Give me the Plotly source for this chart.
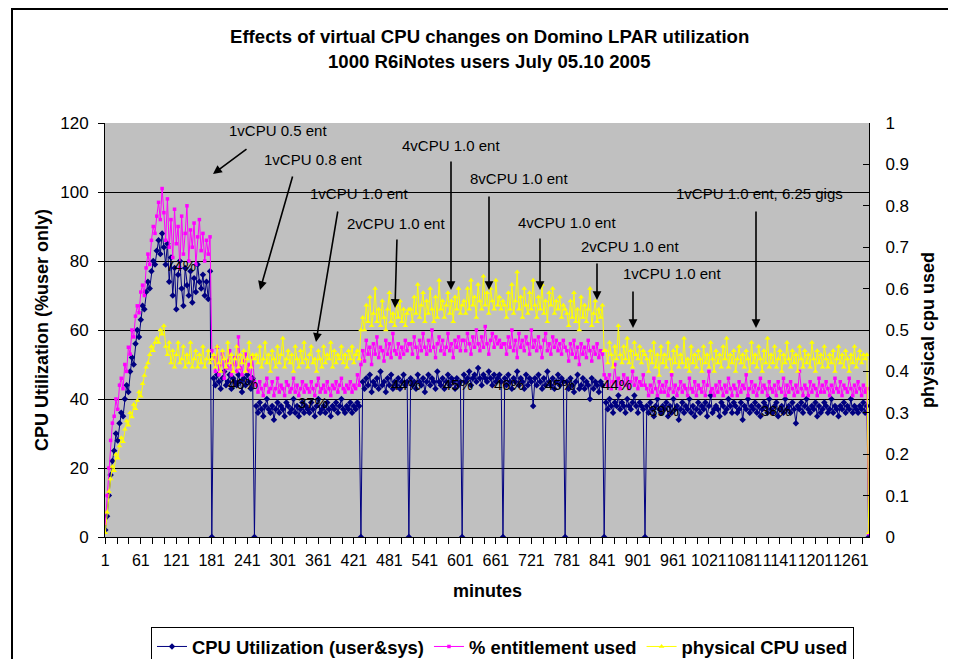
import plotly.graph_objects as go

# ---------------- data (sampled every 3 minutes) ----------------
minutes = list(range(1, 1292, 3))  # 1 .. 1291

cpu_util = [
    # 1vCPU 0.5 ent (ramp-up)
    2, 6, 12, 18, 22, 25, 30, 28, 33, 36,
    35, 40, 44, 42, 48, 52, 50, 56, 60, 58,
    63, 67, 66, 71, 74, 72, 77, 80, 79, 83,
    86, 82, 88, 84, 79, 85, 74, 81, 70, 78,
    66, 76, 80, 72, 67, 78, 73, 70, 77, 68,
    75, 71, 79, 74, 72, 76, 70, 74, 69, 77,
    0,
    # 1vCPU 0.8 ent
    46, 44, 47, 45, 43, 46, 48, 44, 45, 47,
    43, 46, 45, 44, 47, 45, 42, 46, 44, 47,
    45, 43, 46,
    0,
    # 1vCPU 1.0 ent
    38, 36, 39, 37, 35, 38, 40, 37, 36, 38,
    34, 37, 39, 36, 38, 37, 35, 39, 38, 36,
    37, 40, 36, 38, 35, 37, 39, 36, 38, 37,
    36, 39, 37, 35, 38, 40, 36, 37, 38, 36,
    39, 37, 35, 38, 37, 39, 36, 38, 40, 37,
    36, 38, 37, 39, 36, 38, 37, 39, 38,
    0,
    # 2vCPU 1.0 ent
    45, 43, 46, 44, 47, 42, 45, 44, 46, 43,
    48, 44, 45, 42, 46, 44, 47, 43, 45, 44,
    46, 43, 45, 47, 44, 45,
    0,
    # 4vCPU 1.0 ent
    46, 44, 45, 43, 47, 45, 44, 46, 42, 45,
    47, 44, 46, 45, 43, 48, 45, 44, 46, 43,
    45, 47, 44, 46, 45, 43, 46, 44, 45,
    0,
    # 8vCPU 1.0 ent
    47, 45, 46, 48, 44, 46, 47, 45, 49, 46,
    44, 47, 46, 45, 48, 46, 44, 47, 45, 46,
    47, 45,
    0,
    # 4vCPU 1.0 ent
    46, 44, 47, 45, 43, 46, 45, 48, 44, 46,
    45, 43, 47, 44, 46, 45, 38, 46, 44, 47,
    45, 43, 46, 44, 48, 45, 44, 46, 43, 45,
    47, 44, 46, 45,
    0,
    # 2vCPU 1.0 ent
    45, 43, 46, 44, 42, 45, 47, 43, 44, 46,
    43, 45, 44, 40, 46, 43, 45, 44, 42, 45,
    44,
    0,
    # 1vCPU 1.0 ent
    39, 37, 40, 38, 36, 39, 38, 41, 37, 39,
    38, 36, 40, 38, 37, 39, 41, 38, 36, 39,
    38, 37,
    0,
    # 1vCPU 1.0 ent, 6.25 gigs
    38, 36, 39, 37, 35, 38, 40, 37, 36, 38,
    37, 39, 35, 38, 36, 40, 37, 38, 34, 37,
    39, 36, 38, 37, 40, 36, 38, 35, 37, 39,
    36, 38, 37, 39, 35, 38, 41, 36, 37, 38,
    37, 35, 39, 38, 36, 37, 40, 38, 36, 39,
    38, 36, 37, 39, 34, 38, 37, 40, 36, 38,
    37, 39, 36, 38, 35, 37, 39, 38, 36, 40,
    37, 36, 38, 39, 35, 37, 38, 36, 40, 37,
    38, 36, 39, 37, 33, 38, 37, 39, 36, 38,
    40, 37, 36, 38, 37, 39, 35, 38, 36, 37,
    39, 38, 36, 37, 40, 36, 38, 37, 35, 38,
    37, 39, 36, 38, 37, 40, 36, 38, 37, 36,
    38, 37, 39, 36, 38,
    0,
]

entitlement_pct = [
    4, 12, 20, 28, 33, 35, 40, 37, 44, 46,
    43, 50, 48, 55, 53, 60, 58, 64, 67, 65,
    71, 73, 70, 78, 82, 79, 86, 90, 88, 93,
    97, 92, 101, 94, 86, 98, 84, 92, 81, 95,
    85, 90, 78, 93, 82, 88, 96, 80, 89, 84,
    91, 79, 87, 92, 83, 88, 80, 86, 82, 87,
    54,
    52, 48, 55, 47, 50, 53, 46, 51, 49, 54,
    47, 50, 52, 48, 58, 49, 47, 51, 53, 48,
    50, 46, 52,
    45,
    44, 42, 45, 43, 41, 44, 46, 42, 43, 45,
    41, 43, 46, 42, 44, 43, 41, 45, 44, 42,
    43, 46, 42, 44, 41, 43, 45, 42, 44, 43,
    42, 45, 43, 41, 44, 46, 42, 43, 44, 42,
    45, 43, 41, 44, 43, 45, 42, 44, 46, 43,
    42, 44, 43, 45, 42, 44, 43, 47, 44,
    50,
    54, 51, 57, 53, 55, 50, 56, 53, 58, 52,
    55, 54, 51, 57, 53, 56, 52, 59, 54, 53,
    56, 52, 55, 53, 57, 54,
    56,
    56, 53, 58, 55, 52, 57, 54, 59, 55, 53,
    57, 54, 60, 55, 52, 56, 58, 54, 57, 53,
    55, 59, 54, 56, 52, 57, 55, 58, 54,
    57,
    57, 54, 59, 56, 53, 58, 55, 60, 56, 54,
    58, 55, 61, 56, 53, 57, 59, 55, 58, 56,
    57, 55,
    56,
    56, 53, 58, 55, 60, 54, 57, 52, 59, 55,
    57, 54, 58, 56, 53, 60, 55, 57, 54, 58,
    55, 52, 57, 59, 54, 56, 53, 58, 55, 57,
    54, 56, 53, 57,
    55,
    54, 51, 56, 53, 57, 52, 55, 50, 56, 53,
    55, 52, 57, 54, 51, 55, 53, 56, 52, 54,
    53,
    47,
    46, 44, 47, 43, 45, 50, 44, 46, 43, 45,
    47, 44, 46, 43, 45, 48, 44, 46, 43, 45,
    44, 47,
    44,
    43, 41, 44, 42, 46, 43, 41, 45, 42, 44,
    42, 45, 41, 43, 47, 42, 44, 41, 43, 45,
    42, 44, 43, 41, 46, 43, 42, 45, 41, 44,
    43, 42, 45, 41, 44, 48, 42, 43, 41, 44,
    42, 45, 43, 41, 44, 42, 46, 43, 41, 44,
    43, 41, 45, 42, 44, 43, 47, 41, 43, 45,
    42, 44, 41, 43, 46, 42, 44, 43, 41, 45,
    43, 42, 44, 41, 45, 43, 42, 46, 41, 44,
    42, 45, 43, 41, 44, 42, 48, 43, 41, 44,
    43, 41, 45, 42, 44, 43, 41, 46, 42, 44,
    42, 45, 43, 41, 44, 42, 46, 43, 42, 45,
    41, 44, 43, 42, 46, 43, 41, 44, 42, 45,
    43, 41, 44, 42, 43,
    1,
]

physical_cpu = [
    0.01, 0.06, 0.11, 0.14, 0.17, 0.16, 0.20, 0.19, 0.22, 0.24,
    0.23, 0.26, 0.28, 0.27, 0.30, 0.29, 0.32, 0.31, 0.33, 0.35,
    0.34, 0.37, 0.39, 0.41, 0.42, 0.44, 0.46, 0.45, 0.47, 0.48,
    0.47, 0.50, 0.49, 0.51, 0.46, 0.44, 0.47, 0.42, 0.45, 0.41,
    0.44, 0.47, 0.42, 0.43, 0.46, 0.41, 0.44, 0.42, 0.47, 0.41,
    0.43, 0.45, 0.41, 0.44, 0.42, 0.46, 0.41, 0.43, 0.45, 0.42,
    0.43,
    0.44, 0.41, 0.46, 0.42, 0.40, 0.45, 0.43, 0.41, 0.47, 0.42,
    0.44, 0.40, 0.43, 0.46, 0.41, 0.44, 0.42, 0.45, 0.40, 0.43,
    0.47, 0.41, 0.44,
    0.43,
    0.44, 0.42, 0.46, 0.41, 0.43, 0.47, 0.42, 0.44, 0.40, 0.45,
    0.43, 0.41, 0.46, 0.42, 0.44, 0.48, 0.41, 0.43, 0.45, 0.42,
    0.44, 0.40, 0.46, 0.43, 0.41, 0.45, 0.42, 0.47, 0.43, 0.41,
    0.44, 0.46, 0.42, 0.43, 0.40, 0.45, 0.43, 0.41, 0.46, 0.42,
    0.44, 0.43, 0.47, 0.41, 0.45, 0.42, 0.44, 0.43, 0.46, 0.42,
    0.44, 0.41, 0.45, 0.43, 0.46, 0.42, 0.44, 0.45, 0.43,
    0.50,
    0.53, 0.50, 0.56, 0.52, 0.58, 0.51, 0.54, 0.60, 0.52, 0.55,
    0.51, 0.57, 0.53, 0.50, 0.55, 0.59, 0.52, 0.54, 0.51, 0.56,
    0.53, 0.57, 0.52, 0.55, 0.51, 0.54,
    0.55,
    0.55, 0.52, 0.58, 0.54, 0.61, 0.53, 0.56, 0.59, 0.52, 0.57,
    0.54, 0.60, 0.55, 0.52, 0.58, 0.53, 0.62, 0.55, 0.57, 0.53,
    0.56, 0.59, 0.54, 0.57, 0.52, 0.58, 0.55, 0.60, 0.54,
    0.56,
    0.57, 0.54, 0.60, 0.55, 0.62, 0.56, 0.58, 0.53, 0.61, 0.57,
    0.55, 0.63, 0.56, 0.59, 0.54, 0.60, 0.57, 0.55, 0.62, 0.56,
    0.58, 0.55,
    0.57,
    0.56, 0.53, 0.59, 0.55, 0.61, 0.54, 0.57, 0.64, 0.55, 0.58,
    0.53, 0.60, 0.56, 0.54, 0.59, 0.55, 0.62, 0.56, 0.53, 0.58,
    0.55, 0.61, 0.54, 0.57, 0.52, 0.59, 0.56, 0.60, 0.54, 0.57,
    0.55, 0.58, 0.53, 0.56,
    0.55,
    0.54, 0.51, 0.57, 0.53, 0.59, 0.52, 0.55, 0.50, 0.58, 0.53,
    0.56, 0.52, 0.55, 0.60, 0.51, 0.54, 0.57, 0.52, 0.55, 0.53,
    0.56,
    0.45,
    0.45, 0.42, 0.47, 0.44, 0.41, 0.46, 0.43, 0.51, 0.44, 0.42,
    0.46, 0.43, 0.48, 0.42, 0.45, 0.41, 0.47, 0.44, 0.43, 0.46,
    0.42, 0.45,
    0.44,
    0.43, 0.40, 0.45, 0.42, 0.47, 0.41, 0.44, 0.39, 0.46, 0.42,
    0.44, 0.41, 0.47, 0.43, 0.40, 0.45, 0.42, 0.46, 0.41, 0.44,
    0.42, 0.48, 0.41, 0.43, 0.40, 0.46, 0.42, 0.44, 0.41, 0.45,
    0.43, 0.40, 0.46, 0.42, 0.44, 0.41, 0.47, 0.43, 0.40, 0.45,
    0.42, 0.44, 0.41, 0.46, 0.43, 0.48, 0.41, 0.44, 0.42, 0.45,
    0.40, 0.43, 0.46, 0.42, 0.44, 0.41, 0.45, 0.43, 0.40, 0.47,
    0.42, 0.44, 0.41, 0.46, 0.43, 0.40, 0.45, 0.42, 0.48, 0.41,
    0.44, 0.42, 0.46, 0.41, 0.43, 0.45, 0.40, 0.44, 0.42, 0.47,
    0.43, 0.41, 0.45, 0.42, 0.44, 0.40, 0.46, 0.43, 0.41, 0.45,
    0.42, 0.44, 0.41, 0.47, 0.43, 0.40, 0.45, 0.42, 0.44, 0.41,
    0.46, 0.43, 0.41, 0.44, 0.42, 0.45, 0.40, 0.43, 0.46, 0.42,
    0.44, 0.41, 0.45, 0.43, 0.40, 0.44, 0.42, 0.46, 0.41, 0.43,
    0.45, 0.42, 0.44, 0.43, 0.44,
    0.01,
]

x_tick_values = list(range(1, 1262, 60))
x_tick_labels = [str(v) for v in x_tick_values]

config_labels = ["1vCPU 0.5 ent", "1vCPU 0.8 ent", "1vCPU 1.0 ent", "2vCPU 1.0 ent",
                 "4vCPU 1.0 ent", "8vCPU 1.0 ent", "4vCPU 1.0 ent", "2vCPU 1.0 ent",
                 "1vCPU 1.0 ent", "1vCPU 1.0 ent, 6.25 gigs"]
pct_labels = ["74%", "46%", "37%", "44%", "45%", "46%", "45%", "44%", "39%", "38%"]

# ---------------- layout geometry (window pixels) ----------------
W, H = 956, 659
OFF = 8                      # page body margin added by the browser
L, R, T, B = 105, 869, 123, 537


def pxx(x):
    return (x - L) / (R - L)


def pxy(y):
    return (B - y) / (B - T)


config_text_pos = [(278, 131), (313, 159), (359, 193), (396, 223), (451, 145),
                   (519, 178), (567, 222), (630, 246), (672, 273), (759, 193)]
config_arrows = [((248, 148), (213, 174)), ((293, 175), (260, 290)), ((338, 210), (316, 342)),
                 ((397, 238), (395, 308)), ((451, 160), (451, 290)), ((489, 195), (489, 290)),
                 ((540, 237), (540, 290)), ((597, 262), (597, 300)), ((633, 290), (633, 328)),
                 ((756, 210), (756, 328))]
pct_pos = [(181, 265), (243, 383), (313, 402), (406, 384), (458, 384), (509, 384),
           (560, 384), (617, 384), (664, 410), (776, 410)]

FONT = "Liberation Sans, Arial, sans-serif"

fig = go.Figure()
fig.add_trace(go.Scatter(
    x=minutes[:len(cpu_util)], y=cpu_util, name="CPU Utilization (user&sys)",
    mode="lines+markers", line=dict(color="#000080", width=1),
    marker=dict(symbol="diamond", size=5, color="#000080"), yaxis="y"))
fig.add_trace(go.Scatter(
    x=minutes[:len(entitlement_pct)], y=entitlement_pct, name="% entitlement used",
    mode="lines+markers", line=dict(color="#FF00FF", width=1),
    marker=dict(symbol="square", size=3.5, color="#FF00FF"), yaxis="y"))
fig.add_trace(go.Scatter(
    x=minutes[:len(physical_cpu)], y=physical_cpu, name="physical CPU used",
    mode="lines+markers", line=dict(color="#FFFF00", width=1),
    marker=dict(symbol="triangle-up", size=5, color="#FFFF00"), yaxis="y2"))


def text_ann(text, x, y, size, angle=0):
    return dict(text=text, x=pxx(x), y=pxy(y), xref="paper", yref="paper",
                xanchor="center", yanchor="middle", showarrow=False, textangle=angle,
                font=dict(family=FONT, size=size, color="black"))


annotations = [
    text_ann("<b>Effects of virtual CPU changes on Domino LPAR utilization</b>", 489, 37, 18.6),
    text_ann("<b>1000 R6iNotes users July 05.10 2005</b>", 489, 61, 18.6),
    text_ann("<b>CPU Utilization (%user only)</b>", 42, 330, 18, -90),
    text_ann("<b>physical cpu used</b>", 928, 330, 18, -90),
    text_ann("<b>minutes</b>", 487, 591, 18),
]
for txt, (tx, ty) in zip(config_labels, config_text_pos):
    annotations.append(text_ann(txt, tx, ty, 15))
for (tail, head) in config_arrows:
    annotations.append(dict(text="", x=pxx(head[0]), y=pxy(head[1]), xref="paper", yref="paper",
                            ax=tail[0] - head[0], ay=tail[1] - head[1], showarrow=True,
                            arrowhead=2, arrowsize=1.1, arrowwidth=1.6, arrowcolor="black"))
for txt, (tx, ty) in zip(pct_labels, pct_pos):
    annotations.append(text_ann(txt, tx, ty, 15))

border = dict(color="black", width=2)
fig.update_layout(
    width=W, height=H,
    margin=dict(l=L - OFF, r=W - (R - OFF), t=T - OFF, b=H - (B - OFF), autoexpand=False),
    paper_bgcolor="white", plot_bgcolor="#C0C0C0",
    font=dict(family=FONT, size=16, color="black"),
    showlegend=True,
    legend=dict(orientation="h", x=pxx(151), y=pxy(627), xanchor="left", yanchor="top",
                bordercolor="black", borderwidth=1, bgcolor="white",
                font=dict(family=FONT, size=18.4, color="black", weight="bold")),
    xaxis=dict(range=[0.5, 1291.5], tickmode="array", tickvals=x_tick_values,
               ticktext=x_tick_labels, tickangle=0, ticks="outside", ticklen=6,
               tickcolor="black", showline=True, linecolor="black", linewidth=1,
               showgrid=False, zeroline=False,
               tickfont=dict(family=FONT, size=16), ticklabelstandoff=3,
               minor=dict(tick0=1, dtick=20, ticks="outside", ticklen=6, tickcolor="black",
                          showgrid=False)),
    yaxis=dict(range=[0, 120], dtick=20, ticks="outside", ticklen=6, tickcolor="black",
               showline=True, linecolor="black", linewidth=1, showgrid=True,
               gridcolor="black", gridwidth=1, zeroline=False,
               tickfont=dict(family=FONT, size=17), ticklabelstandoff=6),
    yaxis2=dict(range=[0, 1], dtick=0.1, overlaying="y", side="right", ticks="inside",
                ticklen=6, tickcolor="black", showline=True, linecolor="black", linewidth=1,
                showgrid=False, zeroline=False,
                tickfont=dict(family=FONT, size=17), ticklabelstandoff=12),
    annotations=annotations,
    shapes=[
        dict(type="line", xref="paper", yref="paper", x0=pxx(12), x1=pxx(12),
             y0=pxy(700), y1=pxy(OFF + 1), line=border, layer="above"),
        dict(type="line", xref="paper", yref="paper", x0=pxx(11), x1=pxx(1000),
             y0=pxy(OFF + 1), y1=pxy(OFF + 1), line=border, layer="above"),
    ],
)

fig.write_html("out.html")
